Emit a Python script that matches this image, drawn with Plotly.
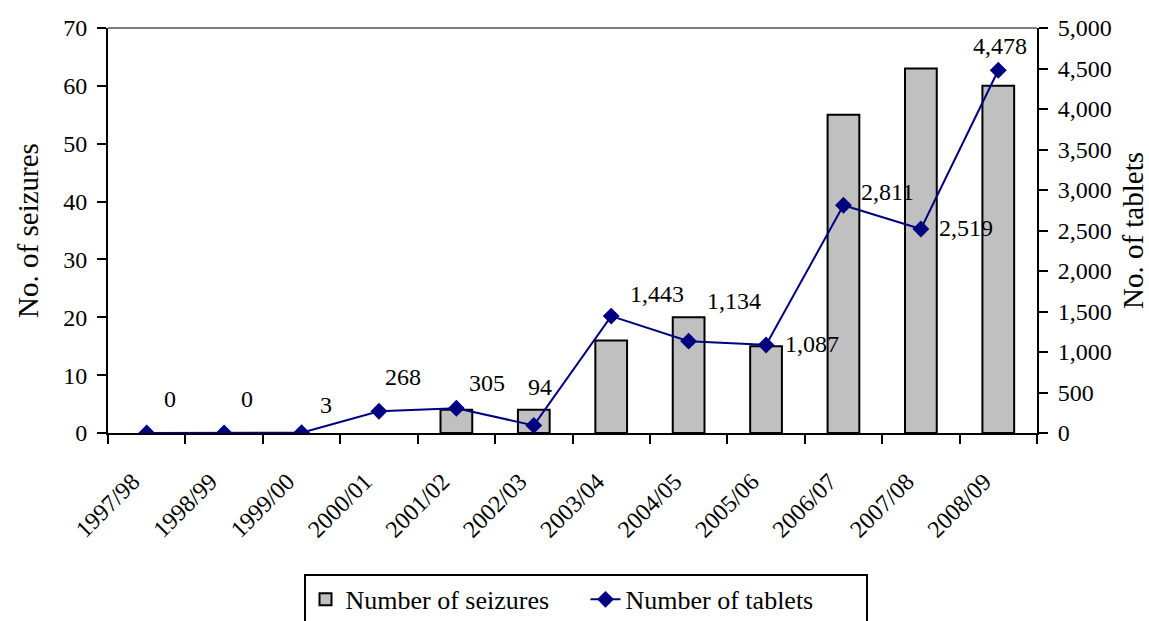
import plotly.graph_objects as go

# Financial years and annual totals
years = ["1997/98", "1998/99", "1999/00", "2000/01", "2001/02", "2002/03",
         "2003/04", "2004/05", "2005/06", "2006/07", "2007/08", "2008/09"]
seizures = [0, 0, 0, 0, 4, 4, 16, 20, 15, 55, 63, 60]
tablets = [0, 0, 3, 268, 305, 94, 1443, 1134, 1087, 2811, 2519, 4478]

# Pixel offsets of each tablet-count label from its marker
label_shift = [(23, 34), (23, 34), (24, 28), (24, 34), (31, 25), (6, 38),
               (46, 22), (45, 40), (46, 1), (44, 13), (45, 1), (2, 24)]

FONT = "Liberation Serif"
NAVY = "#000080"
GREY_BAR = "#C0C0C0"

# Years without seizures get no bar at all (not even an outline)
bar_values = [v if v > 0 else None for v in seizures]

fig = go.Figure()

fig.add_trace(go.Bar(
    x=years, y=bar_values, name="Number of seizures",
    width=0.41,
    marker=dict(color=GREY_BAR, line=dict(color="black", width=2)),
    xaxis="x", yaxis="y",
))

fig.add_trace(go.Scatter(
    x=years, y=tablets, name="Number of tablets",
    mode="lines+markers",
    line=dict(color=NAVY, width=2),
    marker=dict(symbol="diamond", size=13, color=NAVY),
    xaxis="x", yaxis="y2",
))

annotations = []
for yr, val, (dx, dy) in zip(years, tablets, label_shift):
    annotations.append(dict(
        x=yr, y=val, xref="x", yref="y2",
        text=f"{val:,}", showarrow=False,
        xshift=dx, yshift=dy,
        font=dict(family=FONT, size=24, color="black"),
    ))

axis_common = dict(showgrid=False, zeroline=False, tickcolor="black",
                   tickwidth=2, ticklen=9)

n = len(years)
boundaries = [i - 0.5 for i in range(n + 1)]

fig.update_layout(
    width=1149, height=621,
    margin=dict(l=108, r=112, t=28, b=188, autoexpand=False),
    paper_bgcolor="white", plot_bgcolor="white",
    font=dict(family=FONT, size=24, color="black"),
    barmode="group",
    xaxis=dict(
        type="category", range=[-0.5, n - 0.5],
        tickson="boundaries", ticks="outside",
        showline=True, linecolor="black", linewidth=2,
        tickangle=-45, ticklabelstandoff=23, ticklabelshift=-14,
        anchor="y", **axis_common,
    ),
    xaxis2=dict(
        type="linear", overlaying="x", anchor="y", side="bottom",
        range=[-0.5, n - 0.5], tickvals=boundaries,
        ticks="inside", showticklabels=False, showline=False,
        **axis_common,
    ),
    yaxis=dict(
        range=[0, 70], dtick=10, ticks="outside",
        showline=True, linecolor="black", linewidth=2,
        title=dict(text="No. of seizures", standoff=16),
        ticklabelstandoff=5,
        **axis_common,
    ),
    yaxis2=dict(
        range=[0, 5000], dtick=500, tickformat=",",
        overlaying="y", side="right", anchor="x", ticks="outside",
        showline=True, linecolor="black", linewidth=2,
        title=dict(text="No. of tablets", standoff=18),
        ticklabelstandoff=5,
        **axis_common,
    ),
    yaxis3=dict(
        range=[0, 70], dtick=10, overlaying="y", side="left", anchor="x",
        ticks="inside", showticklabels=False, showline=False,
        **axis_common,
    ),
    yaxis4=dict(
        range=[0, 5000], dtick=500, overlaying="y", side="right", anchor="x",
        ticks="inside", showticklabels=False, showline=False,
        **axis_common,
    ),
    legend=dict(
        orientation="h", x=0.514, xanchor="center", y=-0.348, yanchor="top",
        bordercolor="black", borderwidth=2, entrywidth=235,
        font=dict(family=FONT, size=26, color="black"),
    ),
    shapes=[dict(type="line", xref="paper", yref="paper",
                 x0=0, x1=1, y0=1, y1=1,
                 line=dict(color="#808080", width=2))],
    annotations=annotations,
    showlegend=True,
)

fig.write_html("out.html")
